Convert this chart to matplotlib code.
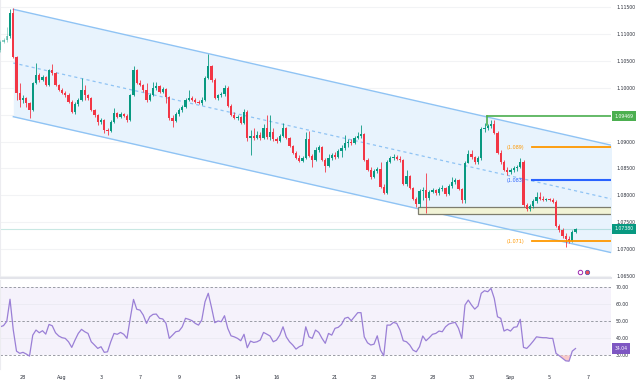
import matplotlib.pyplot as plt
import numpy as np
from matplotlib.patches import Rectangle

# EUR/USD 4H candles, 27 Jul - 6 Sep
first_open = 1.10705
closes = [
    1.10854, 1.10891, 1.10966, 1.11394, 1.10575, 1.09904, 1.09774, 1.09811, 1.09718, 1.09588,
    1.10091, 1.10239, 1.10146, 1.10202, 1.10053, 1.10333, 1.10277, 1.10053, 1.09960, 1.09904,
    1.09867, 1.09737, 1.09551, 1.09700, 1.09774, 1.09960, 1.09867, 1.09811, 1.09588, 1.09495,
    1.09364, 1.09402, 1.09215, 1.09197, 1.09364, 1.09532, 1.09457, 1.09513, 1.09476, 1.09402,
    1.09867, 1.10333, 1.10091, 1.10053, 1.09960, 1.09774, 1.09867, 1.09997, 1.10035, 1.09923,
    1.09979, 1.09830, 1.09439, 1.09383, 1.09513, 1.09588, 1.09644, 1.09774, 1.09811, 1.09774,
    1.09737, 1.09718, 1.09774, 1.10184, 1.10407, 1.10146, 1.09811, 1.09867, 1.09886, 1.09997,
    1.09662, 1.09495, 1.09439, 1.09457, 1.09346, 1.09551, 1.09066, 1.09104, 1.09066, 1.09122,
    1.09066, 1.09253, 1.09085, 1.09178, 1.09048, 1.09011, 1.09104, 1.09253, 1.09066, 1.08917,
    1.08787, 1.08694, 1.08638, 1.08694, 1.09048, 1.08731, 1.08657, 1.08843, 1.08899, 1.08657,
    1.08545, 1.08694, 1.08750, 1.08713, 1.08824, 1.08880, 1.08973, 1.08992, 1.08973, 1.09066,
    1.09104, 1.09141, 1.08657, 1.08471, 1.08340, 1.08452, 1.08489, 1.08154, 1.08042, 1.08620,
    1.08694, 1.08713, 1.08675, 1.08657, 1.08210, 1.08359, 1.08135, 1.07931, 1.07838, 1.08080,
    1.08098, 1.07949, 1.08061, 1.08098, 1.08042, 1.08117, 1.08135, 1.08024, 1.08173, 1.08247,
    1.08284, 1.08117, 1.07912, 1.08601, 1.08769, 1.08713, 1.08620, 1.08694, 1.09234, 1.09253,
    1.09290, 1.09327, 1.09160, 1.08787, 1.08620, 1.08471, 1.08433, 1.08471, 1.08508, 1.08526,
    1.08620, 1.07819, 1.07744, 1.07800, 1.07893, 1.07968, 1.07931, 1.07912, 1.07931, 1.07912,
    1.07875, 1.07428, 1.07353, 1.07242, 1.07186, 1.07149, 1.07316, 1.07380,
]
highs = [
    1.10891, 1.10928, 1.11133, 1.11468, 1.11487, 1.10593, 1.10091, 1.09867, 1.09830, 1.09737,
    1.10109, 1.10463, 1.10277, 1.10239, 1.10221, 1.10351, 1.10444, 1.10295, 1.10072, 1.09997,
    1.09942, 1.09904, 1.09774, 1.09737, 1.09811, 1.10184, 1.10053, 1.09886, 1.09830, 1.09606,
    1.09513, 1.09439, 1.09420, 1.09253, 1.09402, 1.09625, 1.09551, 1.09551, 1.09532, 1.09513,
    1.09886, 1.10407, 1.10351, 1.10146, 1.10072, 1.10091, 1.09904, 1.10109, 1.10109, 1.10053,
    1.10016, 1.09997, 1.09848, 1.09495, 1.09551, 1.09625, 1.09681, 1.09811, 1.09960, 1.09848,
    1.09811, 1.09774, 1.09830, 1.10221, 1.10631, 1.10426, 1.10184, 1.09886, 1.09923, 1.10053,
    1.10035, 1.09700, 1.09551, 1.09495, 1.09476, 1.09606, 1.09588, 1.09215, 1.09253, 1.09197,
    1.09178, 1.09327, 1.09495, 1.09495, 1.09253, 1.09085, 1.09141, 1.09346, 1.09271, 1.09085,
    1.08936, 1.08824, 1.08750, 1.08731, 1.09178, 1.09197, 1.08769, 1.08899, 1.08936, 1.08917,
    1.08694, 1.08769, 1.08787, 1.08806, 1.08862, 1.08936, 1.09122, 1.09048, 1.09048, 1.09104,
    1.09178, 1.09308, 1.09160, 1.08694, 1.08526, 1.08489, 1.08526, 1.08620, 1.08210, 1.08657,
    1.08731, 1.08769, 1.08750, 1.08731, 1.08675, 1.08471, 1.08377, 1.08154, 1.07968, 1.08117,
    1.08154, 1.08415, 1.08098, 1.08135, 1.08117, 1.08154, 1.08191, 1.08154, 1.08210, 1.08340,
    1.08322, 1.08303, 1.08135, 1.08638, 1.08843, 1.08843, 1.08731, 1.08731, 1.09271, 1.09346,
    1.09327, 1.09402, 1.09402, 1.09197, 1.08843, 1.08657, 1.08526, 1.08508, 1.08545, 1.08564,
    1.08694, 1.08657, 1.07856, 1.07838, 1.07931, 1.08061, 1.08061, 1.07986, 1.07949, 1.07949,
    1.07949, 1.07912, 1.07465, 1.07391, 1.07297, 1.07242, 1.07353, 1.07391,
]
lows = [
    1.10668, 1.10835, 1.10854, 1.10928, 1.10556, 1.09774, 1.09644, 1.09718, 1.09644, 1.09439,
    1.09569, 1.10072, 1.10109, 1.10128, 1.10035, 1.10035, 1.10239, 1.10035, 1.09942, 1.09886,
    1.09830, 1.09718, 1.09532, 1.09513, 1.09662, 1.09755, 1.09774, 1.09774, 1.09569, 1.09457,
    1.09308, 1.09327, 1.09160, 1.09122, 1.09178, 1.09346, 1.09439, 1.09439, 1.09457, 1.09364,
    1.09383, 1.09848, 1.10072, 1.10035, 1.09923, 1.09737, 1.09755, 1.09848, 1.09960, 1.09904,
    1.09904, 1.09718, 1.09402, 1.09271, 1.09364, 1.09476, 1.09551, 1.09625, 1.09755, 1.09755,
    1.09718, 1.09700, 1.09681, 1.09755, 1.10165, 1.10109, 1.09793, 1.09774, 1.09830, 1.09848,
    1.09644, 1.09476, 1.09420, 1.09402, 1.09327, 1.09327, 1.09011, 1.08750, 1.09029, 1.09048,
    1.09029, 1.09048, 1.09048, 1.09029, 1.09011, 1.08973, 1.08992, 1.09085, 1.09048, 1.08899,
    1.08769, 1.08675, 1.08620, 1.08620, 1.08675, 1.08713, 1.08526, 1.08638, 1.08806, 1.08638,
    1.08433, 1.08526, 1.08657, 1.08675, 1.08694, 1.08713, 1.08843, 1.08899, 1.08936, 1.08955,
    1.09048, 1.09066, 1.08638, 1.08452, 1.08303, 1.08322, 1.08415, 1.08135, 1.08024, 1.08024,
    1.08601, 1.08657, 1.08657, 1.08620, 1.08191, 1.08173, 1.08117, 1.07912, 1.07782, 1.07782,
    1.07912, 1.07670, 1.07912, 1.08042, 1.08005, 1.08005, 1.08080, 1.07986, 1.08005, 1.08135,
    1.08210, 1.08098, 1.07856, 1.07856, 1.08601, 1.08675, 1.08582, 1.08582, 1.08657, 1.09178,
    1.09215, 1.09253, 1.09141, 1.08769, 1.08582, 1.08452, 1.08377, 1.08396, 1.08433, 1.08452,
    1.08508, 1.07782, 1.07707, 1.07707, 1.07763, 1.07856, 1.07912, 1.07893, 1.07893, 1.07893,
    1.07856, 1.07409, 1.07316, 1.07204, 1.07037, 1.07111, 1.07130, 1.07297,
]
rsi = [
    46.8, 47.5, 50.0, 63.0, 45.0, 32.5, 31.2, 31.8, 30.8, 29.6,
    41.9, 44.9, 43.3, 44.5, 42.5, 48.2, 47.4, 43.3, 41.4, 40.4,
    40.0, 38.0, 34.7, 39.0, 42.9, 45.3, 43.9, 42.9, 38.0, 36.1,
    34.1, 35.1, 31.8, 32.1, 38.0, 42.9, 42.4, 43.5, 42.4, 40.0,
    51.8, 62.9, 57.1, 56.6, 53.7, 48.8, 52.7, 54.1, 54.3, 51.8,
    51.4, 48.8, 40.0, 41.9, 43.9, 44.3, 46.8, 51.8, 51.2, 50.4,
    48.8, 47.8, 50.8, 61.5, 66.5, 58.2, 49.2, 50.2, 49.8, 53.3,
    45.9, 41.5, 40.9, 40.0, 38.6, 42.4, 34.5, 38.4, 37.6, 38.0,
    39.0, 43.5, 42.5, 41.4, 38.0, 39.0, 41.9, 46.8, 40.9, 38.0,
    36.1, 33.7, 35.1, 36.0, 46.8, 40.9, 40.0, 44.9, 43.5, 40.0,
    37.1, 42.9, 41.9, 45.9, 46.5, 48.2, 51.8, 52.4, 50.4, 52.7,
    55.1, 55.1, 40.9, 37.4, 36.1, 36.6, 41.5, 33.1, 29.8, 47.8,
    47.8, 49.4, 48.8, 44.9, 38.6, 38.0, 36.1, 33.1, 32.1, 35.1,
    41.4, 38.6, 40.4, 42.4, 42.9, 44.3, 43.9, 46.8, 48.4, 49.0,
    49.4, 45.9, 40.0, 59.6, 62.5, 59.6, 57.2, 59.0, 66.5, 68.0,
    67.4, 69.4, 63.5, 52.7, 51.8, 44.3, 45.3, 44.3, 46.5, 46.8,
    51.2, 34.7, 34.1, 36.1, 38.4, 40.9, 40.6, 40.4, 40.4, 40.0,
    40.0, 31.2, 29.8, 28.3, 26.8, 26.6, 32.5, 34.04,
]

# time axis: bar index of each labelled day (6 bars per day)
date_bars = [7, 19, 31, 43, 55, 73, 85, 103, 115, 133, 145, 157, 169, 181]
date_labels = ['28', 'Aug', '3', '7', '9', '14', '16', '21', '23', '28', '30', 'Sep', '5', '7']

# 1.09500 sits under the 1.09469 tag, so it has no visible label
price_ticks = [1.065, 1.070, 1.075, 1.080, 1.085, 1.090, 1.095, 1.100, 1.105, 1.110, 1.115]
price_labels = ['1.06500', '1.07000', '1.07500', '1.08000', '1.08500', '1.09000', '',
                '1.10000', '1.10500', '1.11000', '1.11500']
rsi_ticks = [30, 40, 50, 60, 70]

# drawings
channel_x = [4.02, 188.1]
channel_upper = [1.11463, 1.08931]
channel_lower = [1.09463, 1.06931]
zone_start, zone_top, zone_bottom = 128.5, 1.07782, 1.07651
high_level, high_start, high_foot = 1.09469, 149.7, 1.09308
levels = [(1.0889, '(1.089)', '#ff9800'), (1.0828, '(1.083)', '#2962ff'), (1.0714, '(1.071)', '#ff9800')]
level_start = 163.5
last_price = 1.07380

GREEN = '#089981'
RED = '#f23645'
TXT = '#2a2e39'
CH_LINE = '#8fc3f4'
CH_FILL = '#e8f3fd'

closes = np.array(closes)
highs = np.array(highs)
lows = np.array(lows)
opens = np.r_[first_open, closes[:-1]]
idx = np.arange(len(closes))
rsi = np.array(rsi)

fig = plt.figure(figsize=(6.4, 3.83), dpi=100)
ax = fig.add_axes([0, 1 - 278 / 383, 611 / 640, 278 / 383])
ax2 = fig.add_axes([0, 1 - 369 / 383, 611 / 640, (369 - 279.5) / 383])

xmin, xmax = -0.08, 187.92

# ---- price panel ----
ax.set_xlim(xmin, xmax)
ax.set_ylim(1.06460, 1.11636)
ax.set_yticks(price_ticks)
ax.set_yticklabels(price_labels)
ax.yaxis.tick_right()
ax.tick_params(axis='y', length=0, pad=3.6, labelsize=3.3, labelcolor=TXT)
ax.tick_params(axis='x', bottom=False, labelbottom=False)
ax.grid(axis='y', color='#f2f3f5', lw=0.8)
ax.set_axisbelow(True)
for s in ['top', 'right']:
    ax.spines[s].set_visible(False)
ax.spines['left'].set_color('#ececf0')
ax.spines['bottom'].set_color('#e3e4ea')
ax.spines['bottom'].set_linewidth(1.5)

# channel
mid = [(u + l) / 2 for u, l in zip(channel_upper, channel_lower)]
ax.fill_between(channel_x, channel_lower, channel_upper, color=CH_FILL, lw=0, zorder=1)
ax.plot(channel_x, channel_upper, color=CH_LINE, lw=1.0, zorder=2)
ax.plot(channel_x, channel_lower, color=CH_LINE, lw=1.0, zorder=2)
ax.plot(channel_x, mid, color=CH_LINE, lw=0.9, ls=(0, (2.5, 2.5)), zorder=2)

# zone box
ax.add_patch(Rectangle((zone_start, zone_bottom), 70, zone_top - zone_bottom,
                       facecolor='#f1f3d6', edgecolor='#7d7d6e', lw=0.9, zorder=2))

# current price line
ax.axhline(last_price, color=GREEN, alpha=0.22, lw=0.8, zorder=1.5)

# candles
up = closes >= opens
col = np.where(up, GREEN, RED)
body_lo = np.minimum(opens, closes)
body_h = np.maximum(np.abs(closes - opens), 0.00004)
wick_hi = np.maximum(highs, np.maximum(opens, closes))
wick_lo = np.minimum(lows, body_lo)
alpha = np.where(idx < 3, 0.45, 1.0)
for i in idx:
    ax.vlines(i, wick_lo[i], wick_hi[i], color=col[i], lw=0.6, alpha=alpha[i], zorder=3)
    ax.bar(i, body_h[i], bottom=body_lo[i], width=0.68, color=col[i], lw=0,
           alpha=alpha[i], zorder=4)

# high level line
ax.plot([high_start, xmax + 5], [high_level, high_level], color='#4caf50', lw=1.2, zorder=5)
ax.plot([high_start, high_start], [high_foot, high_level], color='#4caf50', lw=1.2, zorder=5)

# target levels
for lvl, lab, c in levels:
    ax.plot([level_start, xmax + 5], [lvl, lvl], color=c,
            lw=1.5 if c == '#2962ff' else 1.3, zorder=5)
    ax.text(level_start - 2.2, lvl, lab, color=c, fontsize=3.5, ha='right', va='center', zorder=6)

# right-side price tags
tag = dict(transform=ax.get_yaxis_transform(), fontsize=3.3, color='white',
           ha='left', va='center', clip_on=False, zorder=10)
ax.text(1.0055, high_level, '%.5f' % high_level,
        bbox=dict(boxstyle='square,pad=0.55', fc='#4caf50', ec='none'), **tag)
ax.text(1.0055, last_price, '%.5f' % last_price,
        bbox=dict(boxstyle='square,pad=0.55', fc=GREEN, ec='none'), **tag)

# event icons
ax.plot([178.4], [1.06581], 'o', ms=3.2, mfc='white', mec='#9c27b0', mew=0.7, zorder=6, clip_on=False)
ax.plot([180.4], [1.06581], 'o', ms=3.2, mfc='#e8505b', mec='#3f51b5', mew=0.5, zorder=6, clip_on=False)

# ---- RSI panel ----
ax2.set_xlim(xmin, xmax)
ax2.set_ylim(22.0, 74.6)
ax2.axhspan(30, 70, color='#f5f2fb', lw=0, zorder=0)
for lv in (40, 60):
    ax2.axhline(lv, color='#ecebf3', lw=0.7, zorder=0.5)
for lv in (30, 50, 70):
    ax2.axhline(lv, color='#9a9ca5', lw=0.7, ls=(0, (2.5, 2)), zorder=1)
ax2.fill_between(idx, rsi, 30, where=rsi < 30, interpolate=True, color='#f9caca', lw=0, zorder=1.5)
ax2.plot(idx, rsi, color='#9a7fd6', lw=0.9, zorder=2)
ax2.set_yticks(rsi_ticks)
ax2.set_yticklabels(['%.2f' % t for t in rsi_ticks])
ax2.yaxis.tick_right()
ax2.tick_params(axis='y', length=0, pad=3.6, labelsize=3.3, labelcolor=TXT)
ax2.set_xticks(date_bars)
ax2.set_xticklabels(date_labels)
ax2.tick_params(axis='x', length=0, pad=4.2, labelsize=3.5, labelcolor=TXT)
for s in ['top', 'right', 'bottom']:
    ax2.spines[s].set_visible(False)
ax2.spines['left'].set_color('#ececf0')
ax2.text(1.0055, rsi[-1], '%.2f' % rsi[-1], transform=ax2.get_yaxis_transform(),
         fontsize=3.3, color='white', ha='left', va='center', clip_on=False, zorder=10,
         bbox=dict(boxstyle='square,pad=0.55', fc='#7e57c2', ec='none'))

fig.savefig('out.png', dpi=100)
